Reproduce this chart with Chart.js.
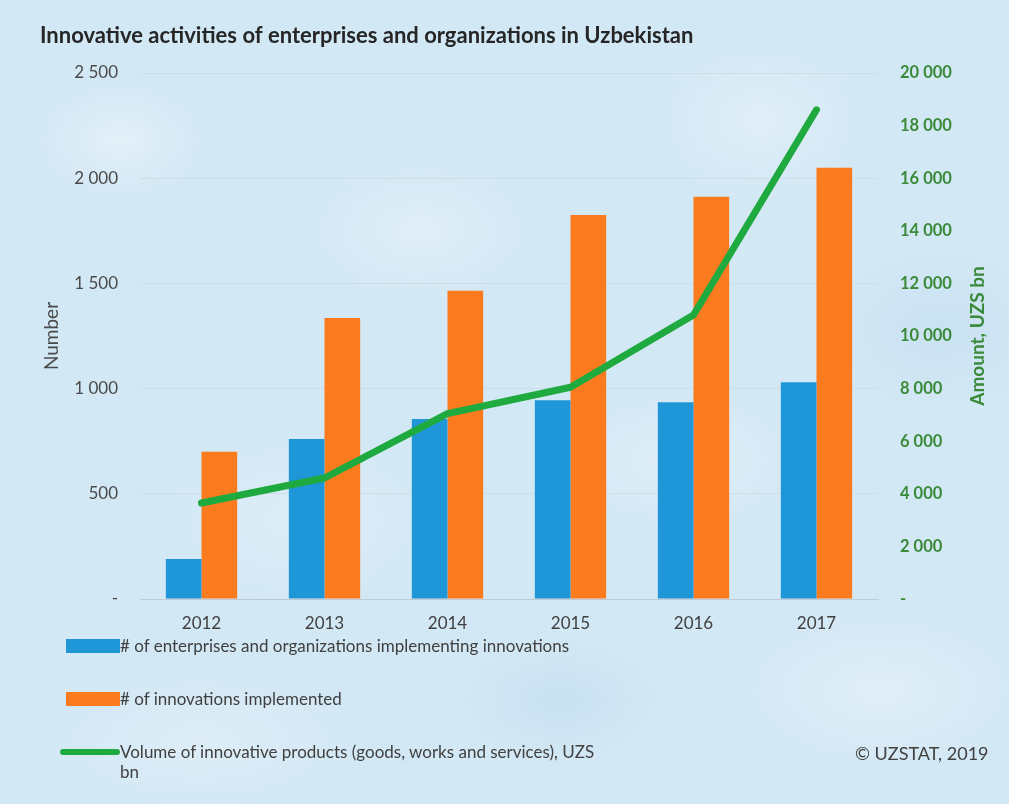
<!DOCTYPE html>
<html>
<head>
<meta charset="utf-8">
<title>Innovative activities in Uzbekistan</title>
<script src="https://cdn.jsdelivr.net/npm/chart.js@4/dist/chart.umd.min.js"></script>
<style>
  html, body { margin: 0; padding: 0; }
  body {
    width: 1009px;
    height: 804px;
    overflow: hidden;
    position: relative;
    font-family: Lato, "Open Sans", sans-serif;
    background-color: #d3e8f5;
    background-image:
      radial-gradient(ellipse 90px 60px at 120px 140px, rgba(255,255,255,0.35), transparent),
      radial-gradient(ellipse 120px 70px at 420px 230px, rgba(255,255,255,0.3), transparent),
      radial-gradient(ellipse 110px 80px at 760px 120px, rgba(255,255,255,0.3), transparent),
      radial-gradient(ellipse 140px 90px at 300px 520px, rgba(255,255,255,0.25), transparent),
      radial-gradient(ellipse 130px 70px at 680px 460px, rgba(255,255,255,0.3), transparent),
      radial-gradient(ellipse 150px 80px at 880px 690px, rgba(255,255,255,0.3), transparent),
      radial-gradient(ellipse 160px 70px at 200px 740px, rgba(255,255,255,0.25), transparent),
      radial-gradient(ellipse 100px 60px at 560px 700px, rgba(180,210,230,0.35), transparent),
      radial-gradient(ellipse 120px 80px at 940px 330px, rgba(180,210,230,0.3), transparent);
  }
  #chart { position: absolute; left: 0; top: 0; }
  #legend {
    position: absolute;
    left: 60px;
    top: 636px;
    list-style: none;
    margin: 0;
    padding: 0;
  }
  #legend li {
    display: flex;
    align-items: flex-start;
    height: 53px;
    font-size: 17px;
    color: #404040;
    line-height: 20px;
  }
  #legend .box { flex: none; width: 60px; display: flex; align-items: center; height: 20px; }
  #legend .text { max-width: 485px; }
  #source {
    position: absolute;
    left: 855px;
    top: 742px;
    font-size: 18px;
    color: #404040;
  }
</style>
</head>
<body>
<canvas id="chart" width="1009" height="804"></canvas>
<ul id="legend"></ul>
<div id="source">© UZSTAT, 2019</div>
<script>
const years = ["2012", "2013", "2014", "2015", "2016", "2017"];
const enterprises = [190, 760, 855, 945, 935, 1030];
const innovations = [700, 1335, 1465, 1825, 1912, 2050];
const productVolume = [3650, 4600, 7050, 8050, 10800, 18600];

const seriesNames = [
  "# of enterprises and organizations implementing innovations",
  "# of innovations implemented",
  "Volume of innovative products (goods, works and services), UZS bn"
];
const rightTitle = "Amount, UZS bn";

const blue = "#1f96d8";
const orange = "#fd7b1f";
const green = "#1faa3f";
const axisGreen = "#3a8a3a";

// "2 500" style numbers, zero shown as a dash
function fmt(v) {
  if (v === 0) return "-";
  return String(v).replace(/\B(?=(\d{3})+(?!\d))/g, " ");
}

// right axis title reads bottom-to-top, like the left one
const rightAxisTitle = {
  id: "rightAxisTitle",
  afterDraw(chart) {
    const { ctx, chartArea } = chart;
    ctx.save();
    ctx.translate(chartArea.right + 100, (chartArea.top + chartArea.bottom) / 2);
    ctx.rotate(-Math.PI / 2);
    ctx.fillStyle = axisGreen;
    ctx.font = "bold 19px Lato";
    ctx.textAlign = "center";
    ctx.textBaseline = "middle";
    ctx.fillText(rightTitle, 0, 0);
    ctx.restore();
  }
};

const ctx = document.getElementById("chart").getContext("2d");
const chart = new Chart(ctx, {
  type: "bar",
  data: {
    labels: years,
    datasets: [
      {
        label: seriesNames[0],
        data: enterprises,
        backgroundColor: blue,
        yAxisID: "y",
        order: 2,
        categoryPercentage: 0.58,
        barPercentage: 1.0
      },
      {
        label: seriesNames[1],
        data: innovations,
        backgroundColor: orange,
        yAxisID: "y",
        order: 2,
        categoryPercentage: 0.58,
        barPercentage: 1.0
      },
      {
        type: "line",
        label: seriesNames[2],
        data: productVolume,
        borderColor: green,
        backgroundColor: green,
        borderWidth: 7,
        borderCapStyle: "round",
        borderJoinStyle: "round",
        pointRadius: 0,
        tension: 0,
        yAxisID: "y1",
        order: 1
      }
    ]
  },
  plugins: [rightAxisTitle],
  options: {
    responsive: false,
    animation: false,
    layout: { padding: { left: 40, right: 15, top: 23, bottom: 165 } },
    plugins: {
      legend: { display: false },
      tooltip: { enabled: false },
      title: {
        display: true,
        text: "Innovative activities of enterprises and organizations in Uzbekistan",
        align: "start",
        color: "#262626",
        font: { family: "Lato", size: 22, weight: "bold" },
        padding: { top: 0, bottom: 23.6 }
      }
    },
    scales: {
      x: {
        grid: { display: false },
        border: { color: "rgba(190,200,210,0.9)" },
        ticks: { color: "#404040", font: { family: "Lato", size: 17 }, padding: 6 },
        afterFit: (scale) => { scale.height = 40; }
      },
      y: {
        position: "left",
        min: 0,
        max: 2500,
        ticks: {
          stepSize: 500,
          color: "#4a4a4a",
          font: { family: "Lato", size: 17 },
          padding: 22,
          callback: (v) => fmt(v)
        },
        grid: { color: "rgba(205,218,228,0.8)", drawTicks: false },
        border: { display: false },
        title: {
          display: true,
          text: "Number",
          color: "#4a4a4a",
          font: { family: "Lato", size: 19 },
          padding: { top: 0, bottom: 0 }
        },
        afterFit: (scale) => { scale.width = 100; }
      },
      y1: {
        position: "right",
        min: 0,
        max: 20000,
        ticks: {
          stepSize: 2000,
          color: axisGreen,
          font: { family: "Lato", size: 16.5, weight: "bold" },
          padding: 22,
          callback: (v) => fmt(v)
        },
        grid: { display: false, drawTicks: false },
        border: { display: false },
        afterFit: (scale) => { scale.width = 116; }
      }
    }
  }
});

// legend list built from the chart's datasets
const legendEl = document.getElementById("legend");
chart.data.datasets.forEach((ds) => {
  const li = document.createElement("li");
  const box = document.createElement("span");
  box.className = "box";
  const sw = document.createElement("span");
  if (ds.type === "line") {
    sw.style.cssText = "display:block;width:60px;height:6px;border-radius:3px;background:" + ds.borderColor;
  } else {
    sw.style.cssText = "display:block;margin-left:6px;width:54px;height:14px;background:" + ds.backgroundColor;
  }
  box.appendChild(sw);
  const txt = document.createElement("span");
  txt.className = "text";
  txt.textContent = ds.label;
  li.appendChild(box);
  li.appendChild(txt);
  legendEl.appendChild(li);
});
</script>
</body>
</html>
